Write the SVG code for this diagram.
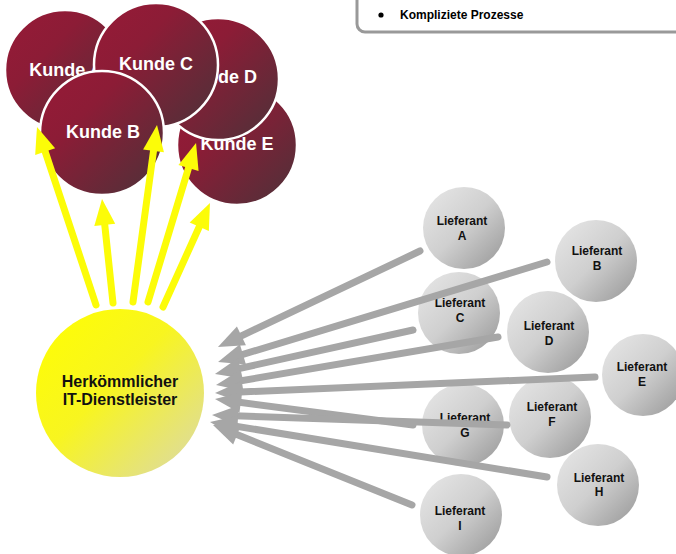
<svg xmlns="http://www.w3.org/2000/svg" width="676" height="554" viewBox="0 0 676 554">
<defs>
<linearGradient id="gK" x1="0" y1="0" x2="1" y2="1">
<stop offset="0" stop-color="#971A37"/><stop offset="0.35" stop-color="#8C1C36"/><stop offset="1" stop-color="#4C3239"/>
</linearGradient>
<linearGradient id="gL" x1="0" y1="0" x2="1" y2="1">
<stop offset="0" stop-color="#E8E8E8"/><stop offset="0.5" stop-color="#CFCFCF"/><stop offset="1" stop-color="#959595"/>
</linearGradient>
<linearGradient id="gY" x1="0" y1="0" x2="1" y2="1">
<stop offset="0" stop-color="#FFFF00"/><stop offset="0.45" stop-color="#F8F520"/><stop offset="1" stop-color="#DAD8B0"/>
</linearGradient>
<marker id="hY" markerUnits="userSpaceOnUse" viewBox="-12 -12 30 24" markerWidth="30" markerHeight="24" refX="0" refY="0" orient="auto" overflow="visible">
<path d="M15,0 L-11,-10.5 L-11,10.5 Z" fill="#FCFC08"/>
</marker>
<marker id="hG" markerUnits="userSpaceOnUse" viewBox="-12 -12 30 24" markerWidth="30" markerHeight="24" refX="0" refY="0" orient="auto" overflow="visible">
<path d="M15,0 L-11,-10.5 L-11,10.5 Z" fill="#A6A6A6"/>
</marker>
</defs>
<style>
.k{fill:url(#gK);stroke:#fff;stroke-width:2.5}
.kt{font-family:"Liberation Sans",Arial,sans-serif;font-weight:bold;font-size:18px;fill:#fff;text-anchor:middle}
.l{fill:url(#gL)}
.lt{font-family:"Liberation Sans",Arial,sans-serif;font-weight:bold;font-size:12px;fill:#111;text-anchor:middle}
.it{font-family:"Liberation Sans",Arial,sans-serif;font-weight:bold;font-size:16px;fill:#111;text-anchor:middle}
.ya{stroke:#FCFC08;stroke-width:7;stroke-linecap:round;fill:none;marker-end:url(#hY)}
.ga{stroke:#A6A6A6;stroke-width:7;stroke-linecap:round;fill:none;marker-end:url(#hG)}
</style>
<g id="box">
<rect x="357" y="-20" width="340" height="52" rx="8" fill="#fff" stroke="#999" stroke-width="3"/>
<circle cx="381" cy="15" r="2.6" fill="#000"/>
<text x="400" y="19" font-family="Liberation Sans,Arial,sans-serif" font-weight="bold" font-size="12" fill="#000">Kompliziete Prozesse</text>
</g>
<g id="kunde-a"><circle class="k" cx="65" cy="70" r="60"/><text class="kt" x="66" y="76">Kunde A</text></g>
<g id="kunde-e"><circle class="k" cx="237" cy="145" r="60"/><text class="kt" x="237" y="150">Kunde E</text></g>
<g id="kunde-d"><circle class="k" cx="218" cy="79" r="61"/><text class="kt" x="220" y="83">Kunde D</text></g>
<g id="kunde-c"><circle class="k" cx="156" cy="65" r="62"/><text class="kt" x="156" y="70">Kunde C</text></g>
<g id="kunde-b"><circle class="k" cx="102" cy="133" r="62"/><text class="kt" x="103" y="138">Kunde B</text></g>
<g id="it"><circle cx="120" cy="393" r="84" fill="url(#gY)"/><text class="it" x="120" y="387">Herkömmlicher</text><text class="it" x="120" y="405">IT-Dienstleister</text></g>
<g id="lief-a"><circle class="l" cx="464" cy="228" r="41"/><text class="lt" x="462" y="225">Lieferant</text><text class="lt" x="462" y="240">A</text></g>
<g id="lief-b"><circle class="l" cx="596" cy="261" r="41"/><text class="lt" x="597" y="255">Lieferant</text><text class="lt" x="597" y="270">B</text></g>
<g id="lief-c"><circle class="l" cx="459" cy="313" r="41"/><text class="lt" x="460" y="307">Lieferant</text><text class="lt" x="460" y="322">C</text></g>
<g id="lief-d"><circle class="l" cx="548" cy="332" r="41"/><text class="lt" x="549" y="330">Lieferant</text><text class="lt" x="549" y="345">D</text></g>
<g id="lief-e"><circle class="l" cx="643" cy="375" r="41"/><text class="lt" x="642" y="371">Lieferant</text><text class="lt" x="642" y="386">E</text></g>
<g id="lief-f"><circle class="l" cx="550" cy="417" r="41"/><text class="lt" x="552" y="411">Lieferant</text><text class="lt" x="552" y="426">F</text></g>
<g id="lief-g"><circle class="l" cx="463" cy="425" r="41"/><text class="lt" x="465" y="422">Lieferant</text><text class="lt" x="465" y="437">G</text></g>
<g id="lief-h"><circle class="l" cx="598" cy="485" r="41"/><text class="lt" x="599" y="482">Lieferant</text><text class="lt" x="599" y="496">H</text></g>
<g id="lief-i"><circle class="l" cx="461" cy="515" r="41"/><text class="lt" x="460" y="515">Lieferant</text><text class="lt" x="460" y="530">I</text></g>
<g id="connectors">
<line class="ga" x1="420" y1="251" x2="231.5" y2="340.6"/>
<line class="ga" x1="547" y1="262" x2="232.4" y2="357.6"/>
<line class="ga" x1="413" y1="330" x2="229.6" y2="370.7"/>
<line class="ga" x1="498" y1="337" x2="230.8" y2="382.5"/>
<line class="ga" x1="595" y1="377" x2="230" y2="392.4"/>
<line class="ga" x1="413" y1="425" x2="229.9" y2="401"/>
<line class="ga" x1="507" y1="425" x2="227" y2="415.5"/>
<line class="ga" x1="547" y1="477" x2="224.8" y2="424.4"/>
<line class="ga" x1="412" y1="505" x2="226.9" y2="430.6"/>
<line class="ya" x1="96" y1="305" x2="41.7" y2="141.2"/>
<line class="ya" x1="113" y1="303" x2="103.6" y2="213.9"/>
<line class="ya" x1="133" y1="302" x2="155" y2="139.9"/>
<line class="ya" x1="148" y1="302" x2="191.7" y2="157.4"/>
<line class="ya" x1="163" y1="307" x2="203.8" y2="216.7"/>
</g>
</svg>
